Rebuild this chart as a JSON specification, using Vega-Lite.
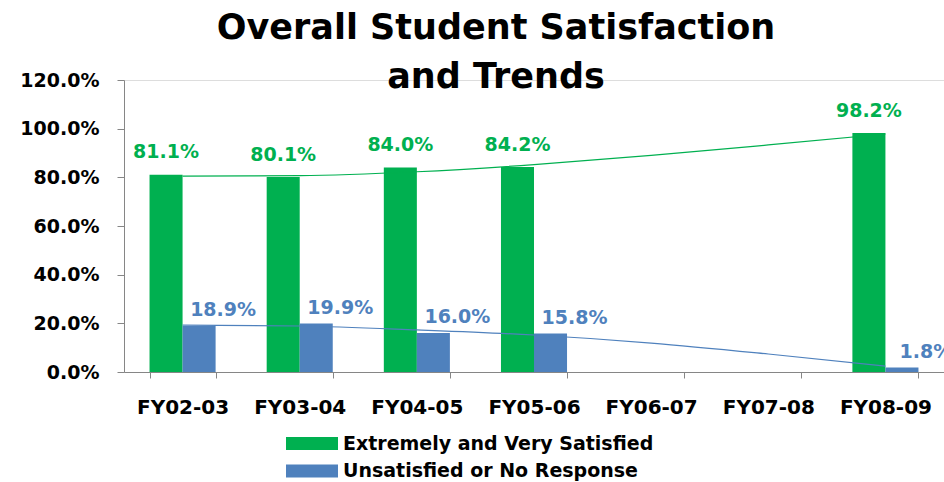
{
  "$schema": "https://vega.github.io/schema/vega-lite/v6.json",
  "autosize": {"type": "none"},
  "padding": {"left": 124, "top": 80, "right": 0, "bottom": 110},
  "width": 820,
  "height": 292,
  "background": "white",
  "title": {
    "text": ["Overall Student Satisfaction", "and Trends"],
    "font": "DejaVu Sans",
    "fontSize": 35,
    "fontWeight": "bold",
    "color": "#000000",
    "anchor": "middle",
    "frame": "group",
    "dx": -38,
    "dy": 28,
    "lineHeight": 49
  },
  "datasets": {
    "bars": [
      {"year": "FY02-03", "series": "Extremely and Very Satisfied", "value": 0.811},
      {"year": "FY02-03", "series": "Unsatisfied or No Response", "value": 0.189},
      {"year": "FY03-04", "series": "Extremely and Very Satisfied", "value": 0.801},
      {"year": "FY03-04", "series": "Unsatisfied or No Response", "value": 0.199},
      {"year": "FY04-05", "series": "Extremely and Very Satisfied", "value": 0.840},
      {"year": "FY04-05", "series": "Unsatisfied or No Response", "value": 0.160},
      {"year": "FY05-06", "series": "Extremely and Very Satisfied", "value": 0.842},
      {"year": "FY05-06", "series": "Unsatisfied or No Response", "value": 0.158},
      {"year": "FY08-09", "series": "Extremely and Very Satisfied", "value": 0.982},
      {"year": "FY08-09", "series": "Unsatisfied or No Response", "value": 0.018}
    ],
    "trend": [
      {"year": "FY02-03", "series": "Extremely and Very Satisfied", "value": 0.805},
      {"year": "FY03-04", "series": "Extremely and Very Satisfied", "value": 0.807},
      {"year": "FY04-05", "series": "Extremely and Very Satisfied", "value": 0.823},
      {"year": "FY05-06", "series": "Extremely and Very Satisfied", "value": 0.852},
      {"year": "FY06-07", "series": "Extremely and Very Satisfied", "value": 0.890},
      {"year": "FY07-08", "series": "Extremely and Very Satisfied", "value": 0.933},
      {"year": "FY08-09", "series": "Extremely and Very Satisfied", "value": 0.978},
      {"year": "FY02-03", "series": "Unsatisfied or No Response", "value": 0.193},
      {"year": "FY03-04", "series": "Unsatisfied or No Response", "value": 0.189},
      {"year": "FY04-05", "series": "Unsatisfied or No Response", "value": 0.173},
      {"year": "FY05-06", "series": "Unsatisfied or No Response", "value": 0.152},
      {"year": "FY06-07", "series": "Unsatisfied or No Response", "value": 0.119},
      {"year": "FY07-08", "series": "Unsatisfied or No Response", "value": 0.074},
      {"year": "FY08-09", "series": "Unsatisfied or No Response", "value": 0.024}
    ]
  },
  "encoding": {
    "x": {
      "field": "year",
      "type": "nominal",
      "sort": null,
      "scale": {
        "domain": ["FY02-03", "FY03-04", "FY04-05", "FY05-06", "FY06-07", "FY07-08", "FY08-09"],
        "paddingInner": 0.436,
        "paddingOuter": 0.218
      },
      "axis": {
        "title": null,
        "labelAngle": 0,
        "labelFont": "DejaVu Sans",
        "labelFontSize": 20,
        "labelFontWeight": "bold",
        "labelColor": "#000000",
        "labelPadding": 19,
        "tickBand": "extent",
        "tickSize": 6,
        "tickColor": "#868686",
        "domainColor": "#868686",
        "grid": false
      }
    },
    "y": {
      "field": "value",
      "type": "quantitative",
      "scale": {"domain": [0, 1.2], "nice": false},
      "axis": {
        "title": null,
        "values": [0, 0.2, 0.4, 0.6, 0.8, 1.0, 1.2],
        "format": ".1%",
        "labelFont": "DejaVu Sans",
        "labelFontSize": 19,
        "labelFontWeight": "bold",
        "labelColor": "#000000",
        "labelPadding": 18,
        "tickSize": 7,
        "tickColor": "#868686",
        "domainColor": "#868686",
        "grid": false
      }
    }
  },
  "layer": [
    {
      "data": {"name": "bars"},
      "mark": {"type": "bar"},
      "encoding": {
        "xOffset": {"field": "series", "type": "nominal", "scale": {"paddingInner": 0, "paddingOuter": 0}},
        "color": {
          "field": "series",
          "type": "nominal",
          "scale": {
            "domain": ["Extremely and Very Satisfied", "Unsatisfied or No Response"],
            "range": ["#00B050", "#4F81BD"]
          },
          "legend": {
            "title": null,
            "orient": "none",
            "legendX": 178.5,
            "legendY": 354,
            "direction": "vertical",
            "padding": 0,
            "symbolType": "M-4,-1L4,-1L4,1L-4,1Z",
            "symbolSize": 169,
            "symbolStrokeWidth": 0,
            "labelFont": "DejaVu Sans",
            "labelFontSize": 19,
            "labelFontWeight": "bold",
            "labelColor": "#000000",
            "labelOffset": 21.5,
            "rowPadding": 7.5,
            "labelLimit": 500
          }
        }
      }
    },
    {
      "data": {"name": "bars"},
      "transform": [{"filter": "datum.series === 'Extremely and Very Satisfied'"}],
      "mark": {"type": "text", "font": "DejaVu Sans", "fontSize": 19, "fontWeight": "bold", "color": "#00B050", "baseline": "alphabetic", "dy": -16.5},
      "encoding": {
        "xOffset": {"field": "series", "type": "nominal", "scale": {"domain": ["Extremely and Very Satisfied", "Unsatisfied or No Response"]}},
        "text": {"field": "value", "type": "quantitative", "format": ".1%"}
      }
    },
    {
      "data": {"name": "bars"},
      "transform": [{"filter": "datum.series === 'Unsatisfied or No Response'"}],
      "mark": {"type": "text", "font": "DejaVu Sans", "fontSize": 19, "fontWeight": "bold", "color": "#4F81BD", "baseline": "alphabetic", "dy": -10, "dx": 24},
      "encoding": {
        "xOffset": {"field": "series", "type": "nominal", "scale": {"domain": ["Extremely and Very Satisfied", "Unsatisfied or No Response"]}},
        "text": {"field": "value", "type": "quantitative", "format": ".1%"}
      }
    },
    {
      "data": {"name": "trend"},
      "transform": [{"filter": "datum.series === 'Extremely and Very Satisfied'"}],
      "mark": {"type": "line", "color": "#00B050", "strokeWidth": 1.2, "interpolate": "monotone"},
      "encoding": {}
    },
    {
      "data": {"name": "trend"},
      "transform": [{"filter": "datum.series === 'Unsatisfied or No Response'"}],
      "mark": {"type": "line", "color": "#4F81BD", "strokeWidth": 1.2, "interpolate": "monotone"},
      "encoding": {}
    }
  ]
}
